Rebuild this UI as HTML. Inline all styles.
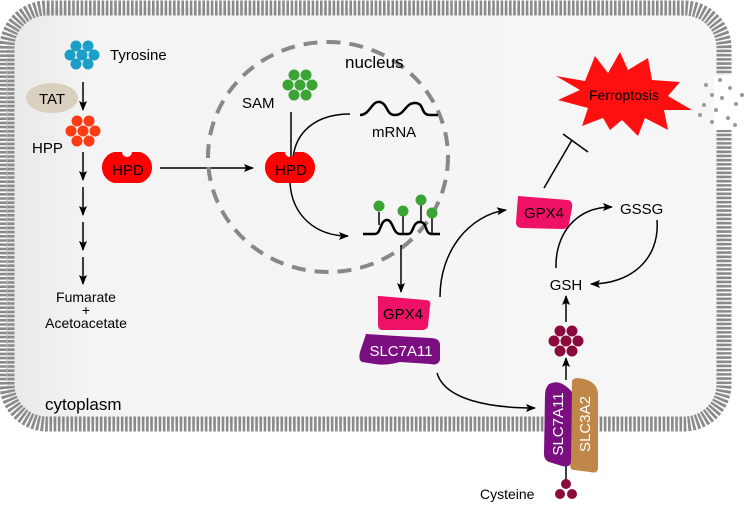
<!DOCTYPE html>
<html><head><meta charset="utf-8"><style>
html,body{margin:0;padding:0;background:#fff;}
svg{display:block;font-family:"Liberation Sans",Arial,sans-serif;}
</style></head><body>
<svg width="750" height="505" viewBox="0 0 750 505" xmlns="http://www.w3.org/2000/svg">
<defs>
<linearGradient id="bg" x1="0" x2="1" y1="0" y2="0"><stop offset="0" stop-color="#e8e8e8"/><stop offset="0.12" stop-color="#f4f4f4"/><stop offset="1" stop-color="#f6f6f6"/></linearGradient>
<marker id="ar" markerWidth="10" markerHeight="8" refX="9" refY="4" orient="auto" markerUnits="userSpaceOnUse"><path d="M0,0 L10,4 L0,8 L2,4 z" fill="#000"/></marker>
</defs>
<rect x="7" y="8" width="717" height="416" rx="40" fill="url(#bg)"/>
<rect x="7" y="8" width="717" height="416" rx="40" fill="none" stroke="#8a8a8a" stroke-width="15" stroke-dasharray="2.6 1.6"/>
<line x1="7" y1="60" x2="7" y2="380" stroke="#bdbdbd" stroke-width="1"/>
<!-- rupture -->
<rect x="714" y="75" width="20" height="55" fill="#fff"/>
<g fill="#999">
<circle cx="706" cy="85" r="2"/><circle cx="712" cy="95" r="2"/><circle cx="704" cy="105" r="2"/><circle cx="716" cy="110" r="2"/><circle cx="722" cy="98" r="2"/><circle cx="730" cy="88" r="2"/><circle cx="736" cy="104" r="2"/><circle cx="728" cy="118" r="2"/><circle cx="712" cy="122" r="2"/><circle cx="742" cy="95" r="2"/><circle cx="720" cy="80" r="2"/><circle cx="735" cy="125" r="2"/><circle cx="700" cy="115" r="2"/>
</g>
<!-- Tyrosine -->
<g fill="#1aa0c8">
<circle cx="76" cy="46" r="5.5"/><circle cx="88" cy="46" r="5.5"/><circle cx="70" cy="55" r="5.5"/><circle cx="82" cy="55" r="5.5"/><circle cx="94" cy="55" r="5.5"/><circle cx="76" cy="64" r="5.5"/><circle cx="88" cy="64" r="5.5"/>
</g>
<text x="110" y="60" font-size="15">Tyrosine</text>
<ellipse cx="52" cy="98" rx="26" ry="15" fill="#d9d0bf"/>
<text x="52" y="104" font-size="15" text-anchor="middle">TAT</text>
<line x1="83" y1="82" x2="83" y2="110" stroke="#000" stroke-width="1.5" marker-end="url(#ar)"/>
<g fill="#ff3b14">
<circle cx="77" cy="121" r="5.5"/><circle cx="89" cy="121" r="5.5"/><circle cx="71" cy="131" r="5.5"/><circle cx="83" cy="131" r="5.5"/><circle cx="95" cy="131" r="5.5"/><circle cx="77" cy="141" r="5.5"/><circle cx="89" cy="141" r="5.5"/>
</g>
<text x="32" y="153" font-size="15">HPP</text>
<g stroke="#000" stroke-width="1.5" marker-end="url(#ar)">
<line x1="83" y1="152" x2="83" y2="180"/><line x1="83" y1="187" x2="83" y2="215"/><line x1="83" y1="222" x2="83" y2="250"/><line x1="83" y1="257" x2="83" y2="284"/>
</g>
<text x="86" y="302" font-size="14" text-anchor="middle">Fumarate</text>
<text x="86" y="315" font-size="14" text-anchor="middle">+</text>
<text x="86" y="328" font-size="14" text-anchor="middle">Acetoacetate</text>
<text x="45" y="410" font-size="17">cytoplasm</text>
<!-- HPD -->
<path d="M114,152 H122 A5,5 0 0 0 132,152 H140 A16,16 0 0 1 140,183 H114 A16,16 0 0 1 114,152 Z" fill="#ff0000"/>
<text x="128" y="175" font-size="15" text-anchor="middle">HPD</text>
<line x1="160" y1="168" x2="253" y2="168" stroke="#000" stroke-width="1.5" marker-end="url(#ar)"/>
<!-- nucleus -->
<ellipse cx="328" cy="157" rx="120" ry="115" fill="none" stroke="#888" stroke-width="4" stroke-dasharray="14 9"/>
<text x="345" y="68" font-size="17">nucleus</text>
<g fill="#3aa535">
<circle cx="294" cy="75" r="5.5"/><circle cx="306" cy="75" r="5.5"/><circle cx="288" cy="85" r="5.5"/><circle cx="300" cy="85" r="5.5"/><circle cx="312" cy="85" r="5.5"/><circle cx="294" cy="95" r="5.5"/><circle cx="306" cy="95" r="5.5"/>
</g>
<text x="242" y="108" font-size="15">SAM</text>
<line x1="291" y1="112" x2="291" y2="158" stroke="#000" stroke-width="1.5"/>
<path d="M350,114 C318,114 296,130 293,158" fill="none" stroke="#000" stroke-width="1.5"/>
<path d="M360,115 C370,115 372,100 380,102 C388,104 386,115 395,115 C405,115 405,103 415,103 C425,103 420,115 430,115 H438" fill="none" stroke="#000" stroke-width="2.5"/>
<text x="372" y="137" font-size="15">mRNA</text>
<path d="M277,152 H285 A5,5 0 0 0 295,152 H303 A16,16 0 0 1 303,183 H277 A16,16 0 0 1 277,152 Z" fill="#ff0000"/>
<text x="291" y="175" font-size="15" text-anchor="middle">HPD</text>
<path d="M290,183 C292,215 315,236 348,236" fill="none" stroke="#000" stroke-width="1.5" marker-end="url(#ar)"/>
<path d="M363,234 H375 C381,234 380,220 387,220 C393,220 393,234 400,234 H408 C414,234 412,222 420,222 C428,222 424,234 432,234 H440" fill="none" stroke="#000" stroke-width="2.5"/>
<g stroke="#000" stroke-width="1.5"><line x1="379" y1="212" x2="379" y2="225"/><line x1="403" y1="215" x2="403" y2="234"/><line x1="421" y1="205" x2="421" y2="222"/><line x1="432" y1="218" x2="432" y2="234"/></g>
<g fill="#3aa535"><circle cx="379" cy="206" r="5.5"/><circle cx="403" cy="211" r="5.5"/><circle cx="421" cy="200" r="5.5"/><circle cx="432" cy="213" r="5.5"/></g>
<line x1="401" y1="245" x2="401" y2="292" stroke="#000" stroke-width="1.5" marker-end="url(#ar)"/>
<!-- GPX4 / SLC7A11 -->
<path d="M378,298 Q376,296 380,296 L425,300 Q432,300 430,306 L428,326 Q427,330 422,330 L383,330 Q378,330 378,325 Z" fill="#ee1166"/>
<text x="403" y="319" font-size="15" text-anchor="middle">GPX4</text>
<path d="M366,334 L430,338 Q440,338 440,345 L440,360 Q438,366 430,364 L400,362 Q385,366 375,364 L362,362 Q358,360 360,352 Z" fill="#7b0e80"/>
<text x="401" y="356" font-size="15" fill="#fff" text-anchor="middle">SLC7A11</text>
<path d="M437,373 C445,400 490,408 535,408" fill="none" stroke="#000" stroke-width="1.5" marker-end="url(#ar)"/>
<!-- transporter -->
<line x1="566" y1="460" x2="566" y2="482" stroke="#000" stroke-width="1.5"/>
<path d="M572,382 Q572,378 578,378 Q598,380 598,395 L598,468 Q598,474 590,472 L574,470 Q570,470 570,464 Z" fill="#c08848"/>
<path d="M549,384 Q560,378 572,392 L571,462 Q570,468 562,466 L549,462 Q544,460 544,454 L545,395 Q545,388 549,384 Z" fill="#7b0e80"/>
<text transform="translate(563,424) rotate(-90)" font-size="15" fill="#fff" text-anchor="middle">SLC7A11</text>
<text transform="translate(590,424) rotate(-90)" font-size="15" fill="#fff" text-anchor="middle">SLC3A2</text>
<g fill="#8b0a3e"><circle cx="566" cy="484" r="5"/><circle cx="560" cy="494" r="5"/><circle cx="572" cy="494" r="5"/></g>
<text x="480" y="499" font-size="14">Cysteine</text>
<line x1="566" y1="380" x2="566" y2="358" stroke="#000" stroke-width="1.5" marker-end="url(#ar)"/>
<g fill="#8b0a3e">
<circle cx="560" cy="331" r="5.5"/><circle cx="572" cy="331" r="5.5"/><circle cx="554" cy="341" r="5.5"/><circle cx="566" cy="341" r="5.5"/><circle cx="578" cy="341" r="5.5"/><circle cx="560" cy="351" r="5.5"/><circle cx="572" cy="351" r="5.5"/>
</g>
<line x1="566" y1="322" x2="566" y2="296" stroke="#000" stroke-width="1.5" marker-end="url(#ar)"/>
<text x="566" y="290" font-size="15" text-anchor="middle">GSH</text>
<path d="M440,297 C440,250 470,215 506,210" fill="none" stroke="#000" stroke-width="1.5" marker-end="url(#ar)"/>
<path d="M518,196 L568,200 Q573,201 572,208 L569,224 Q568,229 562,229 L522,228 Q516,228 516,222 Z" fill="#ee1166"/>
<text x="544" y="218" font-size="15" text-anchor="middle">GPX4</text>
<path d="M556,268 C555,235 575,207 612,207" fill="none" stroke="#000" stroke-width="1.5" marker-end="url(#ar)"/>
<text x="620" y="214" font-size="15">GSSG</text>
<path d="M657,220 C660,260 630,284 591,284" fill="none" stroke="#000" stroke-width="1.5" marker-end="url(#ar)"/>
<line x1="544" y1="188" x2="572" y2="140" stroke="#000" stroke-width="1.5"/>
<line x1="563" y1="134" x2="588" y2="152" stroke="#000" stroke-width="1.5"/>
<!-- Ferroptosis star -->
<path d="M556,76 L585,81 L595,56 L608,73 L620,52 L628,70 L648,58 L652,80 L680,82 L668,96 L692,110 L664,110 L668,130 L645,118 L638,136 L622,120 L610,130 L603,118 L582,126 L588,108 L558,100 L580,90 Z" fill="#ff1010"/>
<text x="624" y="100" font-size="14" text-anchor="middle">Ferroptosis</text>
</svg>
</body></html>
